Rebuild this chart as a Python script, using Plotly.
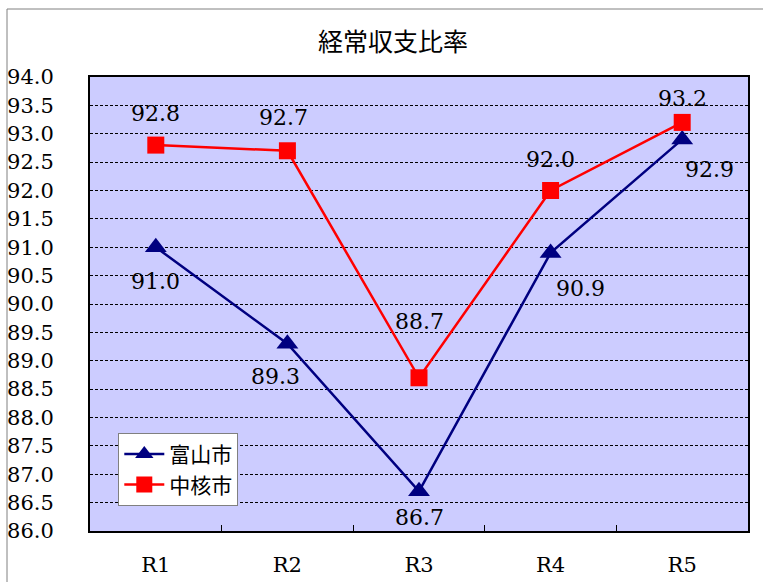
import plotly.graph_objects as go

# 経常収支比率 (%) by fiscal year
years = ["R1", "R2", "R3", "R4", "R5"]
toyama = [91.0, 89.3, 86.7, 90.9, 92.9]
chukaku = [92.8, 92.7, 88.7, 92.0, 93.2]
y_ticks = [86.0 + 0.5 * i for i in range(17)]

# label offsets in pixels (x, y) for each point's value label
toyama_offsets = [(0, -34), (-12, -33), (0, -26), (30, -36), (27, -30)]
chukaku_offsets = [(0, 32), (-4, 33), (0, 56), (0, 31), (0, 24)]

NAVY = "#000080"
RED = "#FF0000"
SERIF = "DejaVu Serif, Liberation Serif, serif"
GOTHIC = "Noto Sans CJK JP, sans-serif"

fig = go.Figure()
fig.add_trace(go.Scatter(
    x=years, y=toyama, name="富山市", mode="lines+markers",
    line=dict(color=NAVY, width=2.5),
    marker=dict(symbol="triangle-up", size=19, color=NAVY),
))
fig.add_trace(go.Scatter(
    x=years, y=chukaku, name="中核市", mode="lines+markers",
    line=dict(color=RED, width=2.5),
    marker=dict(symbol="square", size=17, color=RED),
))

annotations = []
for vals, offs in ((toyama, toyama_offsets), (chukaku, chukaku_offsets)):
    for cat, v, (dx, dy) in zip(years, vals, offs):
        annotations.append(dict(
            x=cat, y=v, text=f"{v:.1f}", showarrow=False,
            xshift=dx, yshift=dy,
            font=dict(family=SERIF, size=22, color="#000000"),
        ))

fig.update_layout(
    width=763, height=582,
    margin=dict(l=90, r=15, t=77, b=51),
    paper_bgcolor="white",
    plot_bgcolor="#CCCCFF",
    title=dict(
        text="経常収支比率", x=0.515, xanchor="center", y=0.928, yanchor="middle",
        font=dict(family=GOTHIC, size=25, color="#000000"),
    ),
    showlegend=True,
    legend=dict(
        x=0.043, y=0.216, xanchor="left", yanchor="top",
        bgcolor="white", bordercolor="#808080", borderwidth=1,
        font=dict(family=GOTHIC, size=21, color="#000000"),
        tracegroupgap=0, itemwidth=40,
    ),
    annotations=annotations,
    shapes=[
        dict(type="rect", xref="paper", yref="paper",
             x0=(7 - 90) / 658, x1=(775 - 90) / 658,
             y0=(531 - 595) / 454, y1=(531 - 9) / 454,
             line=dict(color="#808080", width=1), fillcolor="rgba(0,0,0,0)",
             layer="below"),
    ],
)

fig.update_xaxes(
    type="category", range=[-0.5, 4.5], automargin=False,
    showline=True, linecolor="#000000", linewidth=2, mirror=True,
    tickson="boundaries", ticks="inside", ticklen=6, tickcolor="#000000",
    showgrid=False, zeroline=False,
    ticklabelstandoff=14,
    tickfont=dict(family=SERIF, size=21, color="#000000"),
)
fig.update_yaxes(
    range=[86.0, 94.0], automargin=False,
    tickvals=y_ticks, ticktext=[f"{t:.1f}" for t in y_ticks],
    showline=True, linecolor="#000000", linewidth=2, mirror=True,
    ticks="", showgrid=True, gridcolor="#000000", gridwidth=1,
    griddash="3px,2px", zeroline=False,
    ticklabelstandoff=30,
    tickfont=dict(family=SERIF, size=21, color="#000000"),
)

fig.write_html("out.html")
